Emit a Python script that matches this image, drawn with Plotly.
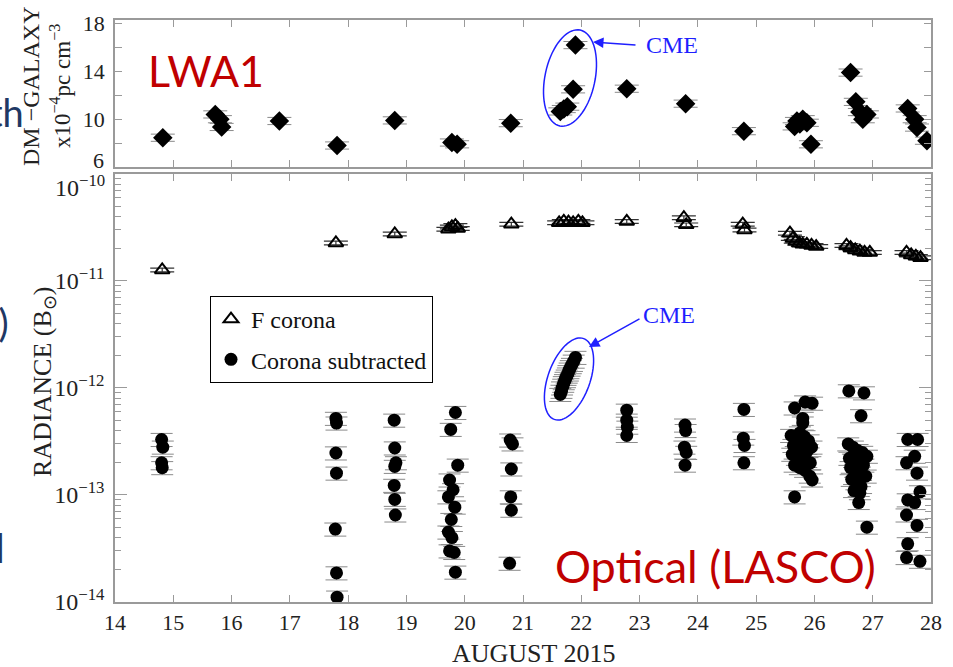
import math
import plotly.graph_objects as go

# ---------------- data ----------------
# Dispersion measure excess (LWA1), units of 1e-4 pc cm^-3
dm_day = [14.82, 15.72, 15.80, 15.83, 16.82, 17.81, 18.80, 19.78, 19.87, 20.79,
          21.64, 21.70, 21.76, 21.86, 21.90, 22.78, 23.79, 24.79,
          25.66, 25.70, 25.75, 25.80, 25.87, 25.94,
          26.62, 26.71, 26.78, 26.83, 26.90,
          27.60, 27.72, 27.76, 27.93]
dm_val = [8.45, 10.4, 10.0, 9.35, 9.85, 7.8, 9.9, 8.05, 7.9, 9.67,
          10.65, 10.85, 11.05, 12.5, 16.2, 12.55, 11.3, 9.0,
          9.4, 9.85, 9.6, 10.0, 9.7, 7.9,
          13.9, 11.45, 10.6, 10.0, 10.4,
          10.9, 10.0, 9.3, 8.2]

# F corona radiance (B_sun)
fc_day = [14.81, 17.79, 18.80, 19.72, 19.78, 19.84, 19.88, 20.80,
          21.62, 21.70, 21.78, 21.86, 21.95, 22.02, 22.78, 23.76, 23.80,
          24.77, 24.80,
          25.58, 25.63, 25.68, 25.74, 25.80, 25.87, 25.95, 26.03,
          26.55, 26.62, 26.70, 26.78, 26.86, 26.95,
          27.58, 27.66, 27.74, 27.82]
fc_val = [1.27e-11, 2.27e-11, 2.75e-11, 3.05e-11, 3.2e-11, 3.3e-11, 3.1e-11, 3.4e-11,
          3.5e-11, 3.6e-11, 3.55e-11, 3.5e-11, 3.6e-11, 3.5e-11, 3.6e-11, 3.9e-11, 3.35e-11,
          3.4e-11, 3.0e-11,
          2.8e-11, 2.5e-11, 2.35e-11, 2.25e-11, 2.2e-11, 2.2e-11, 2.15e-11, 2.1e-11,
          2.15e-11, 2.05e-11, 1.95e-11, 1.9e-11, 1.85e-11, 1.85e-11,
          1.85e-11, 1.75e-11, 1.7e-11, 1.65e-11]

# Corona-subtracted radiance (B_sun), values in units of 1e-13
cs_day = [14.80, 14.82, 14.80, 14.81,
          17.79, 17.80, 17.79, 17.80, 17.78, 17.80, 17.81,
          18.79, 18.80, 18.82, 18.80, 18.79, 18.80, 18.81,
          19.84, 19.76, 19.88, 19.74, 19.80, 19.72, 19.83, 19.77, 19.72, 19.78, 19.74, 19.82, 19.84,
          20.78, 20.82, 20.80, 20.79, 20.80, 20.77,
          21.64, 21.66, 21.67, 21.69, 21.70, 21.72, 21.73, 21.75, 21.77, 21.78, 21.80, 21.82, 21.84, 21.87, 21.90,
          22.78, 22.78, 22.79, 22.78,
          23.78, 23.79, 23.77, 23.80, 23.78,
          24.79, 24.78, 24.80, 24.79,
          25.66, 25.84, 25.96, 25.80, 25.80, 25.60, 25.68, 25.75, 25.83, 25.90, 25.64, 25.72, 25.80,
          25.88, 25.95, 25.62, 25.70, 25.78, 25.86, 25.93, 25.66, 25.75, 25.84, 25.92, 25.96, 25.66,
          26.59, 26.85, 26.80, 26.58, 26.66, 26.74, 26.82, 26.90, 26.60, 26.68, 26.76, 26.84, 26.62,
          26.70, 26.78, 26.88, 26.64, 26.72, 26.80, 26.68, 26.78, 26.76, 26.90,
          27.60, 27.77, 27.58, 27.72, 27.76, 27.81, 27.60, 27.72, 27.58, 27.76, 27.60, 27.58, 27.81]
cs_val13 = [3.3, 2.8, 2.0, 1.8,
            5.2, 4.7, 2.47, 1.6, 0.48, 0.187, 0.111,
            5.0, 2.75, 2.0, 1.85, 1.23, 0.91, 0.65,
            5.9, 4.1, 1.9, 1.38, 1.12, 0.96, 0.77, 0.59, 0.45, 0.40, 0.30, 0.29, 0.19,
            3.26, 3.0, 1.75, 0.96, 0.72, 0.23,
            8.7, 9.3, 10.0, 10.6, 11.2, 11.7, 12.3, 12.9, 13.5, 14.2, 15.0, 15.8, 16.6, 17.8, 19.3,
            6.2, 5.0, 4.3, 3.6,
            4.5, 4.0, 2.8, 2.5, 1.9,
            6.3, 3.4, 2.9, 2.0,
            6.5, 7.4, 7.2, 5.2, 4.7, 3.6, 3.3, 3.8, 3.5, 3.2, 2.9, 2.7, 3.0,
            2.6, 2.8, 2.4, 2.2, 2.3, 2.1, 2.0, 1.9, 1.8, 1.7, 1.5, 1.38, 0.96,
            9.4, 9.0, 5.5, 3.0, 2.8, 2.6, 2.5, 2.3, 2.2, 2.1, 2.0, 1.9, 1.8,
            1.7, 1.6, 1.5, 1.4, 1.3, 1.2, 1.1, 1.05, 0.85, 0.50,
            3.3, 3.3, 2.0, 2.3, 1.6, 1.07, 0.90, 0.85, 0.65, 0.52, 0.35, 0.26, 0.24]
cs_val = [v * 1e-13 for v in cs_val13]

x_ticks = list(range(14, 29))
dm_ticks = [6, 8, 10, 12, 14, 16, 18]
dm_ticklabels = ["", "", "10", "", "14", "", "18"]
dm_bottom_label = "6"
rad_ticks = [1e-14, 1e-13, 1e-12, 1e-11, 1e-10]
rad_ticklabels = ["10<sup>−14</sup>", "10<sup>−13</sup>", "10<sup>−12</sup>",
                  "10<sup>−11</sup>", ""]
rad_top_label = "10<sup>−10</sup>"

# ---------------- geometry helpers ----------------
W, H = 953, 667
ML, MR, MT, MB = 115, 22, 20, 65
PW, PH = W - ML - MR, H - MT - MB


def px(xp):
    return (xp - ML) / PW


def py(yp):
    return (H - MB - yp) / PH


def ellipse_path(cx, cy, a, b, tilt_deg, n=72):
    """Ellipse in pixel space (a: half-height, b: half-width), tilted clockwise."""
    t = math.radians(tilt_deg)
    pts = []
    for i in range(n + 1):
        th = 2 * math.pi * i / n
        ex, ey = b * math.cos(th), a * math.sin(th)
        xr = ex * math.cos(t) - ey * math.sin(t)
        yr = ex * math.sin(t) + ey * math.cos(t)
        pts.append((px(cx + xr), py(cy + yr)))
    return "M " + " L ".join(f"{x:.5f},{y:.5f}" for x, y in pts) + " Z"


SERIF = "Liberation Serif, Times New Roman, serif"
SANS = "Lato, Carlito, Noto Sans, sans-serif"
AXC = "#9a9a9a"
ERRC = "#8a8a8a"
BLUE = "#1f1fff"
RED = "#c00000"
NAVY = "#1f3864"
TXT = "#222"

fig = go.Figure()

fig.add_trace(go.Scatter(
    x=dm_day, y=dm_val, mode="markers", xaxis="x2", yaxis="y2",
    marker=dict(symbol="diamond", size=15, color="black"),
    error_y=dict(type="constant", value=0.3, width=12, thickness=1, color=ERRC),
    showlegend=False))

fig.add_trace(go.Scatter(
    x=fc_day, y=fc_val, mode="markers", xaxis="x", yaxis="y",
    name="F corona", legendgroup="a",
    marker=dict(symbol="triangle-up-open", size=13, color="black",
                line=dict(width=2, color="black")),
    error_y=dict(type="percent", value=4, width=12, thickness=1.2, color="#333")))

fig.add_trace(go.Scatter(
    x=cs_day, y=cs_val, mode="markers", xaxis="x", yaxis="y",
    name="Corona subtracted", legendgroup="b",
    marker=dict(symbol="circle", size=13, color="black"),
    error_y=dict(type="percent", value=14, width=11, thickness=1, color=ERRC)))

axis_common = dict(showline=True, linecolor=AXC, linewidth=1.5, mirror="allticks",
                   ticks="inside", tickcolor=AXC, tickwidth=1.2, showgrid=False,
                   zeroline=False)

fig.update_layout(
    width=W, height=H,
    margin=dict(l=ML, r=MR, t=MT, b=MB),
    paper_bgcolor="white", plot_bgcolor="white",
    xaxis=dict(range=[14, 28], tickvals=x_ticks, ticklen=7, anchor="y",
               tickfont=dict(family=SERIF, size=22, color=TXT), **axis_common),
    xaxis2=dict(range=[14, 28], tickvals=x_ticks, ticklen=7, anchor="y2",
                showticklabels=False, matches="x", **axis_common),
    yaxis=dict(type="log", range=[-14, -10], domain=[0, 0.7354], anchor="x",
               tickvals=rad_ticks, ticktext=rad_ticklabels, ticklen=12,
               ticklabelstandoff=4,
               tickfont=dict(family=SERIF, size=24, color=TXT),
               minor=dict(ticks="inside", ticklen=6, tickcolor=AXC, dtick="D1",
                          showgrid=False),
               **axis_common),
    yaxis2=dict(range=[6, 18.3], domain=[0.7474, 1], anchor="x2",
                tickvals=dm_ticks, ticktext=dm_ticklabels, ticklen=7,
                ticklabelstandoff=4,
                tickfont=dict(family=SERIF, size=22, color=TXT),
                **axis_common),
    legend=dict(x=px(210), y=py(296), xanchor="left", yanchor="top",
                bordercolor="black", borderwidth=1, bgcolor="white",
                font=dict(family=SERIF, size=24, color="#111"),
                traceorder="grouped", tracegroupgap=6, itemwidth=30),
    font=dict(family=SERIF),
)


def text_at(text, x, y, size, color=TXT, family=SERIF, angle=0, xa="center", ya="middle"):
    return dict(text=text, x=px(x), y=py(y), xref="paper", yref="paper",
                xanchor=xa, yanchor=ya, textangle=angle, showarrow=False,
                font=dict(family=family, size=size, color=color))


ann = []
# axis titles
ann.append(text_at("DM −GALAXY", 31, 86, 24, angle=-90))
ann.append(text_at("x10<sup>−4</sup>pc cm<sup>−3</sup>", 60, 86, 23, angle=-90))
ann.append(text_at("RADIANCE (B<sub>⊙</sub>)", 44, 382, 26, angle=-90))
ann.append(text_at("AUGUST 2015", 533, 653, 26))
# end labels that would otherwise collide at the panel junction
ann.append(text_at(dm_bottom_label, 106, 160, 22, xa="right"))
ann.append(text_at(rad_top_label, 107, 186, 24, xa="right"))
# instrument labels
ann.append(text_at("LWA1", 146, 70, 43, color=RED, family=SANS, xa="left"))
ann.append(text_at("Optical (LASCO)", 553, 566, 45, color=RED, family=SANS, xa="left"))
# CME callouts
ann.append(dict(text="", x=px(593), y=py(42), xref="paper", yref="paper",
                ax=637 - 593, ay=45 - 42, showarrow=True, arrowhead=2, arrowsize=1.4,
                arrowwidth=1.5, arrowcolor=BLUE))
ann.append(text_at("CME", 644, 45, 24, color=BLUE, xa="left"))
ann.append(dict(text="", x=px(589), y=py(347), xref="paper", yref="paper",
                ax=641 - 589, ay=318 - 347, showarrow=True, arrowhead=2, arrowsize=1.4,
                arrowwidth=1.5, arrowcolor=BLUE))
ann.append(text_at("CME", 641, 315, 24, color=BLUE, xa="left"))
# slide text running behind the figure at the left edge
ann.append(text_at("with", 26, 112, 38, color=NAVY, family=SANS, xa="right"))
ann.append(text_at("s)", 11, 322, 38, color=NAVY, family=SANS, xa="right"))
ann.append(text_at("and", 7, 548, 40, color=NAVY, family=SANS, xa="right"))
fig.update_layout(annotations=ann)

fig.update_layout(shapes=[
    dict(type="path", xref="paper", yref="paper",
         path=ellipse_path(570, 78, 49, 25, 12), line=dict(color=BLUE, width=1.5)),
    dict(type="path", xref="paper", yref="paper",
         path=ellipse_path(569, 379, 43, 21, 20), line=dict(color=BLUE, width=1.5)),
])

fig.write_html("out.html")
